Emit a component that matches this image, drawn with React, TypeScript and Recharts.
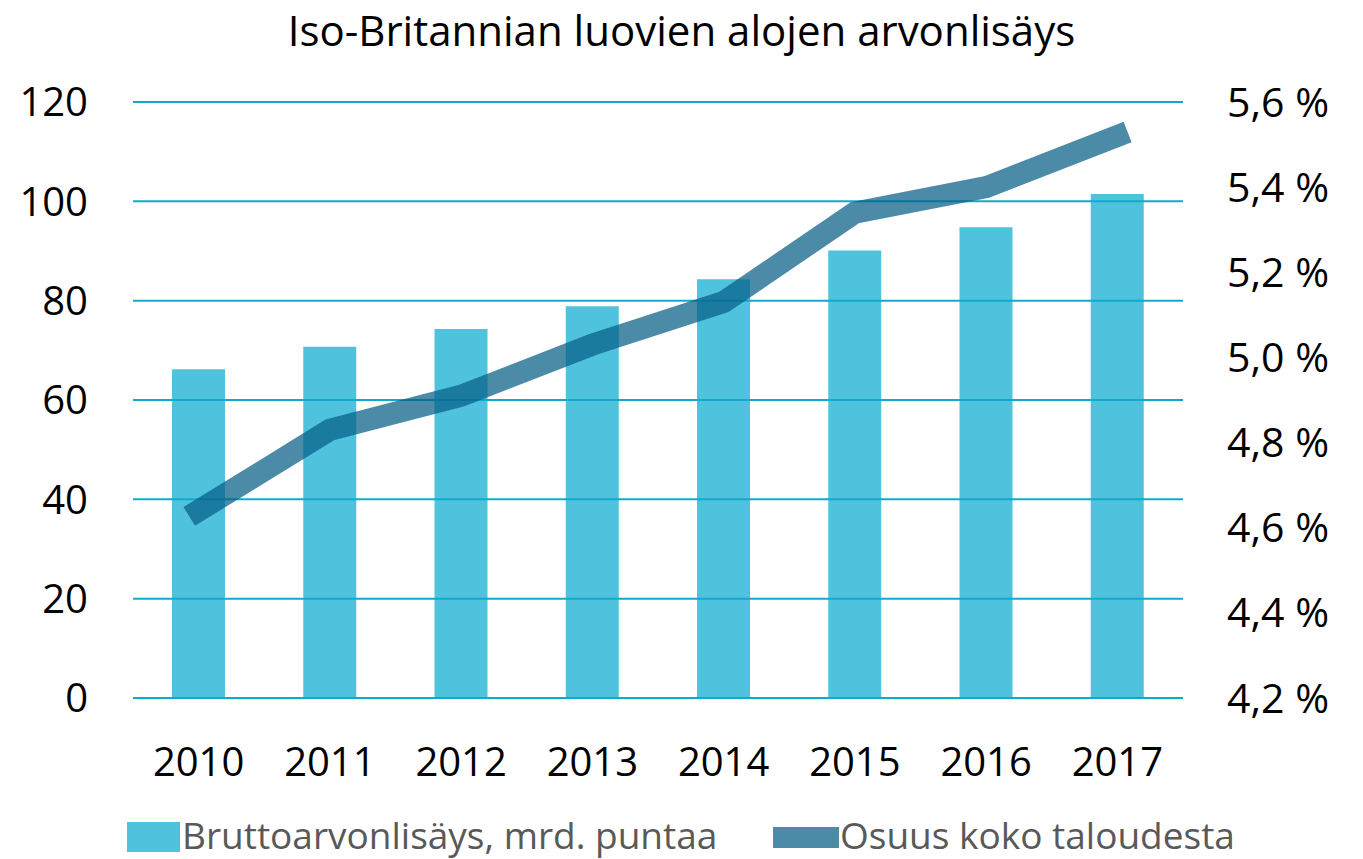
import { Bar, ComposedChart, Legend, Line, ReferenceLine, XAxis, YAxis } from "recharts";

const years = ["2010", "2011", "2012", "2013", "2014", "2015", "2016", "2017"];
const bruttoarvonlisays = [66.2, 70.7, 74.3, 78.9, 84.3, 90.1, 94.8, 101.5];
const osuus = [4.64, 4.83, 4.91, 5.03, 5.13, 5.34, 5.4, 5.52];
const leftTicks = [0, 20, 40, 60, 80, 100, 120];
const rightTicks = [4.2, 4.4, 4.6, 4.8, 5.0, 5.2, 5.4, 5.6];

const data = years.map((year, i) => ({
    year,
    brutto: bruttoarvonlisays[i],
    osuus: osuus[i],
}));

const FONT = "'Open Sans', sans-serif";
const BAR = "#4FC3DE";
const LINE = "#065E86";
const GRID = "#12A9CF";

const formatPct = (v: number) => `${v.toFixed(1).replace(".", ",")} %`;

function ChartLegend() {
    return (
        <div style={{ position: "relative", height: 70, fontFamily: FONT, fontSize: 37, color: "#595959" }}>
            <div style={{ position: "absolute", left: 127, top: 33, width: 53, height: 30, background: BAR }} />
            <span style={{ position: "absolute", left: 182, top: 20, lineHeight: "52px", whiteSpace: "nowrap" }}>
                Bruttoarvonlisäys, mrd. puntaa
            </span>
            <div style={{ position: "absolute", left: 773, top: 38, width: 66, height: 21, background: LINE, opacity: 0.72 }} />
            <span style={{ position: "absolute", left: 840, top: 20, lineHeight: "52px", whiteSpace: "nowrap" }}>
                Osuus koko taloudesta
            </span>
        </div>
    );
}

export default function App() {
    return (
        <div style={{ position: "absolute", left: 0, top: 0, width: 1363, height: 859, background: "#fff" }}>
            <div
                style={{
                    position: "absolute",
                    left: 0,
                    top: 0,
                    width: 1363,
                    textAlign: "center",
                    fontFamily: FONT,
                    fontSize: 42,
                    lineHeight: "60px",
                    color: "#000",
                }}
            >
                Iso-Britannian luovien alojen arvonlisäys
            </div>
            <ComposedChart width={1363} height={859} data={data} margin={{ top: 102, right: 0, bottom: 0, left: 0 }}>
                <XAxis
                    dataKey="year"
                    axisLine={false}
                    tickLine={false}
                    tickSize={0}
                    tickMargin={50}
                    height={91}
                    tick={{ fill: "#000", fontSize: 40, fontFamily: FONT }}
                />
                <YAxis
                    yAxisId="left"
                    domain={[0, 120]}
                    ticks={leftTicks}
                    axisLine={false}
                    tickLine={false}
                    tickSize={0}
                    tickMargin={45}
                    width={133}
                    tick={{ fill: "#000", fontSize: 40, fontFamily: FONT }}
                />
                <YAxis
                    yAxisId="right"
                    orientation="right"
                    domain={[4.2, 5.6]}
                    ticks={rightTicks}
                    tickFormatter={formatPct}
                    axisLine={false}
                    tickLine={false}
                    tickSize={0}
                    tickMargin={44}
                    width={180}
                    tick={{ fill: "#000", fontSize: 41, fontFamily: FONT }}
                />
                <Bar
                    yAxisId="left"
                    dataKey="brutto"
                    name="Bruttoarvonlisäys, mrd. puntaa"
                    fill={BAR}
                    barSize={53}
                    isAnimationActive={false}
                />
                {leftTicks.map((t) => (
                    <ReferenceLine key={t} yAxisId="left" y={t} stroke={GRID} strokeWidth={2} />
                ))}
                <Line
                    yAxisId="right"
                    dataKey="osuus"
                    name="Osuus koko taloudesta"
                    stroke={LINE}
                    strokeOpacity={0.72}
                    strokeWidth={22}
                    strokeLinecap="square"
                    strokeLinejoin="miter"
                    dot={false}
                    activeDot={false}
                    isAnimationActive={false}
                />
                <Legend verticalAlign="bottom" height={70} content={() => <ChartLegend />} />
            </ComposedChart>
        </div>
    );
}
